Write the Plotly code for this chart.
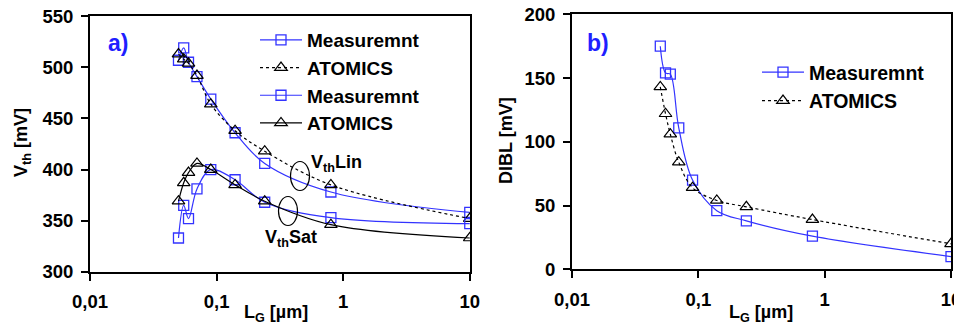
import plotly.graph_objects as go

# ---- data ----
lg_vth = [0.05, 0.055, 0.06, 0.07, 0.09, 0.14, 0.24, 0.8, 10]
vth_lin_meas = [507, 519, 505, 491, 469, 436, 406, 378, 358]
vth_lin_atom = [513, 508, 504, 492, 464, 438, 418, 385, 352]
vth_sat_meas = [333, 365, 352, 381, 400, 390, 368, 353, 347]
vth_sat_atom = [369, 387, 397, 406, 400, 385, 369, 346, 333]

lg_dibl = [0.05, 0.055, 0.06, 0.07, 0.09, 0.14, 0.24, 0.8, 10]
dibl_meas = [175, 154, 153, 111, 70, 46, 38, 26, 10]
dibl_atom = [143, 122, 106, 84, 64, 54, 49, 39, 20]

x_tickvals = [0.01, 0.1, 1, 10]
x_ticktext = ["0,01", "0,1", "1", "10"]
y1_ticks = [300, 350, 400, 450, 500, 550]
y2_ticks = [0, 50, 100, 150, 200]

BLUE = "#3333ff"
FONT = "Liberation Sans, Arial, sans-serif"

OFF = 8  # page offset of the figure inside the browser window
W, H = 962 - OFF, 325 - OFF
SL, SR, ST, SB = 90, 951, 14, 272  # desired screen extents of the plotting region
ML, MT = SL - OFF, ST - OFF
MR, MB = W - (SR - OFF), H - (SB - OFF)
PW, PH = SR - SL, SB - ST


def px(x):
    return (x - SL) / PW


def py(y):
    return (SB - y) / PH


def b(s):
    return "<b>" + s + "</b>"


fig = go.Figure()

sq = dict(symbol="square-open", size=10, color=BLUE, line=dict(width=1.3, color=BLUE))
tri = dict(symbol="triangle-up-open", size=11, color="black", line=dict(width=1.2, color="black"))

fig.add_trace(go.Scatter(x=lg_vth, y=vth_lin_meas, mode="lines+markers", name=b("Measuremnt"),
                         line=dict(color=BLUE, width=1.2, shape="spline"), marker=sq,
                         xaxis="x", yaxis="y", legend="legend"))
fig.add_trace(go.Scatter(x=lg_vth, y=vth_lin_atom, mode="lines+markers", name=b("ATOMICS"),
                         line=dict(color="black", width=1.2, dash="dot", shape="spline"), marker=tri,
                         xaxis="x", yaxis="y", legend="legend"))
fig.add_trace(go.Scatter(x=lg_vth, y=vth_sat_meas, mode="lines+markers", name=b("Measuremnt"),
                         line=dict(color=BLUE, width=1.2, shape="spline"), marker=sq,
                         xaxis="x", yaxis="y", legend="legend"))
fig.add_trace(go.Scatter(x=lg_vth, y=vth_sat_atom, mode="lines+markers", name=b("ATOMICS"),
                         line=dict(color="black", width=1.2, shape="spline"), marker=tri,
                         xaxis="x", yaxis="y", legend="legend"))

fig.add_trace(go.Scatter(x=lg_dibl, y=dibl_meas, mode="lines+markers", name=b("Measuremnt"),
                         line=dict(color=BLUE, width=1.2, shape="spline"), marker=sq,
                         xaxis="x2", yaxis="y2", legend="legend2"))
fig.add_trace(go.Scatter(x=lg_dibl, y=dibl_atom, mode="lines+markers", name=b("ATOMICS"),
                         line=dict(color="black", width=1.2, dash="dot", shape="spline"), marker=tri,
                         xaxis="x2", yaxis="y2", legend="legend2"))

axis_common = dict(showline=True, linewidth=2, linecolor="black", mirror=True,
                   ticks="outside", ticklen=7, tickwidth=1.5, tickcolor="black",
                   showgrid=False, zeroline=False, automargin=False,
                   ticklabeloverflow="allow",
                   tickfont=dict(family=FONT, size=18.5, color="black"))

fig.update_layout(
    width=W, height=H,
    margin=dict(l=ML, r=MR, t=MT, b=MB, autoexpand=False),
    paper_bgcolor="white", plot_bgcolor="white",
    font=dict(family=FONT, size=18, color="black"),
    xaxis=dict(type="log", domain=[0, px(470)], range=[-2, 1.002],
               tickvals=x_tickvals, ticktext=[b(t) for t in x_ticktext], anchor="y",
               ticklabelstandoff=5, **axis_common),
    yaxis=dict(domain=[py(271.7), py(16.3)], range=[300, 550], tickvals=y1_ticks,
               ticktext=[b(str(v)) for v in y1_ticks], anchor="x",
               ticklabelstandoff=4, **axis_common),
    xaxis2=dict(type="log", domain=[px(572), 1], range=[-2, 1.0],
                tickvals=x_tickvals, ticktext=[b(t) for t in x_ticktext], anchor="y2",
                ticklabelstandoff=5, **axis_common),
    yaxis2=dict(domain=[py(269.3), py(14.3)], range=[0, 200], tickvals=y2_ticks,
                ticktext=[b(str(v)) for v in y2_ticks], anchor="x2",
                ticklabelstandoff=4, **axis_common),
    legend=dict(x=px(255), y=py(21), xanchor="left", yanchor="top",
                bgcolor="rgba(0,0,0,0)", itemwidth=42,
                font=dict(family=FONT, size=19, color="black")),
    legend2=dict(x=px(757), y=py(53), xanchor="left", yanchor="top",
                 bgcolor="rgba(0,0,0,0)", itemwidth=42,
                 font=dict(family=FONT, size=19.5, color="black")),
    showlegend=True,
)


def note(text, x, y, size=18, color="black", angle=0):
    return dict(text=b(text), x=px(x), y=py(y), xref="paper", yref="paper",
                xanchor="center", yanchor="middle", showarrow=False, textangle=angle,
                font=dict(family=FONT, size=size, color=color))


ann = [
    note("a)", 117.5, 43, size=23, color="#1f1fff"),
    note("b)", 597.5, 43, size=23, color="#1f1fff"),
    note("V<sub>th</sub> [mV]", 22, 143, angle=-90),
    note("DIBL [mV]", 506, 141, angle=-90),
    note("L<sub>G</sub> [µm]", 276, 313),
    note("L<sub>G</sub> [µm]", 761, 313),
    note("V<sub>th</sub>Lin", 336, 164),
    note("V<sub>th</sub>Sat", 291, 238),
]
fig.update_layout(annotations=ann)

shapes = [
    dict(type="circle", xref="paper", yref="paper", x0=px(290.5), x1=px(309.5),
         y0=py(190.5), y1=py(161.5), line=dict(color="black", width=1.2)),
    dict(type="circle", xref="paper", yref="paper", x0=px(278.5), x1=px(297.5),
         y0=py(225.5), y1=py(196.5), line=dict(color="black", width=1.2)),
]
fig.update_layout(shapes=shapes)

fig.write_html("out.html")
